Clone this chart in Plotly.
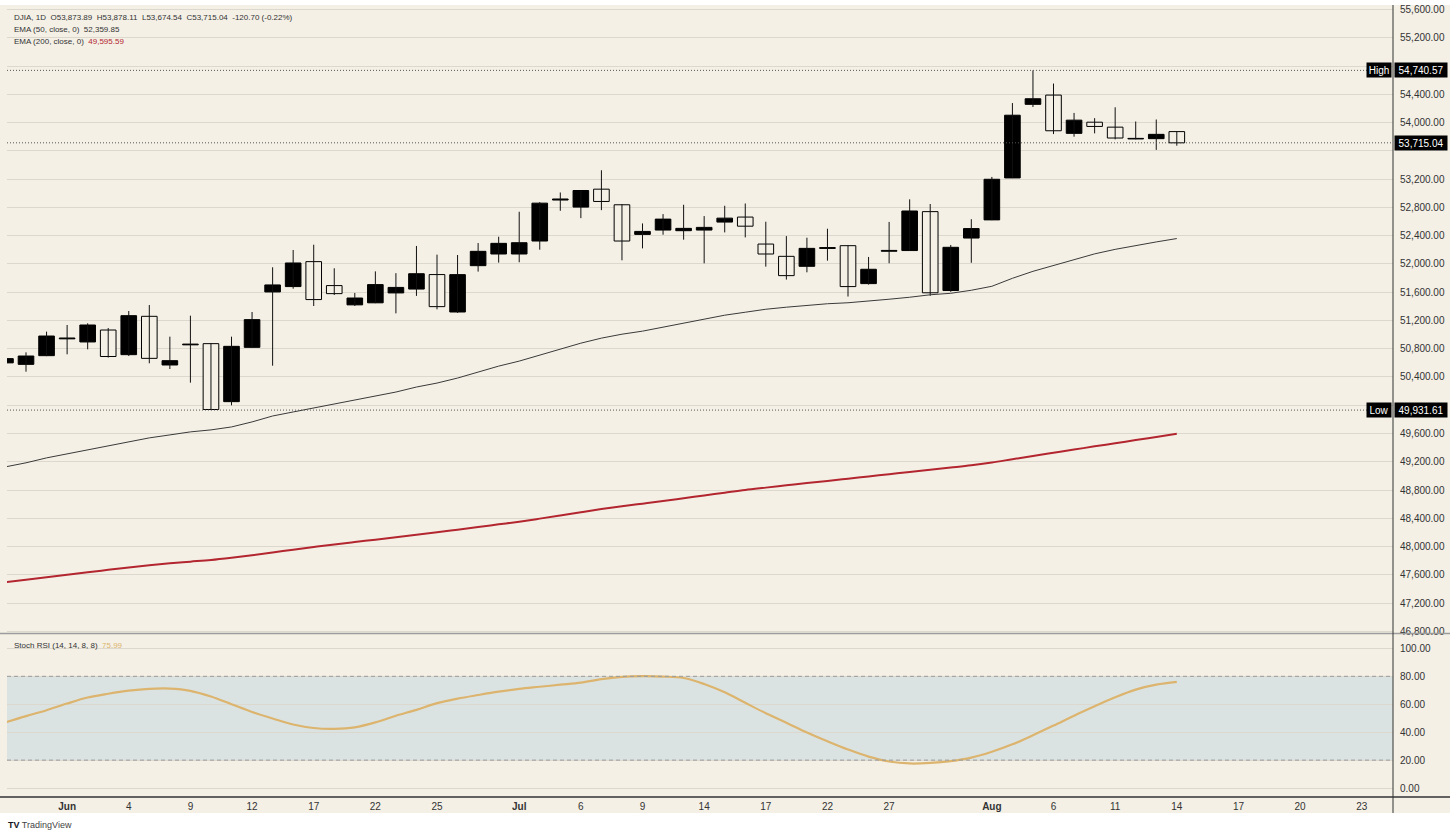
import plotly.graph_objects as go

# ---------------- data ----------------
dates = ["2026-05-27", "2026-05-28", "2026-05-29",
         "2026-06-01", "2026-06-02", "2026-06-03", "2026-06-04", "2026-06-05",
         "2026-06-08", "2026-06-09", "2026-06-10", "2026-06-11", "2026-06-12",
         "2026-06-15", "2026-06-16", "2026-06-17", "2026-06-18", "2026-06-19",
         "2026-06-22", "2026-06-23", "2026-06-24", "2026-06-25", "2026-06-26",
         "2026-06-29", "2026-06-30",
         "2026-07-01", "2026-07-02", "2026-07-03",
         "2026-07-06", "2026-07-07", "2026-07-08", "2026-07-09", "2026-07-10",
         "2026-07-13", "2026-07-14", "2026-07-15", "2026-07-16", "2026-07-17",
         "2026-07-20", "2026-07-21", "2026-07-22", "2026-07-23", "2026-07-24",
         "2026-07-27", "2026-07-28", "2026-07-29", "2026-07-30", "2026-07-31",
         "2026-08-03", "2026-08-04", "2026-08-05", "2026-08-06", "2026-08-07",
         "2026-08-10", "2026-08-11", "2026-08-12", "2026-08-13", "2026-08-14"]

opens = [50600, 50579, 50702, 50940, 50896, 51065, 50716, 51259, 50570, 50855,
         50872, 50051, 50820, 51604, 51680, 52033, 51694, 51421, 51450, 51590,
         51645, 51850, 51320, 51976, 52141, 52141, 52325, 52905, 52805, 53059,
         52838, 52419, 52480, 52471, 52480, 52593, 52664, 52282, 52108, 51967,
         52220, 52259, 51722, 52180, 52190, 52741, 51624, 52367, 52624, 53218,
         54260, 54391, 53849, 54007, 53937, 53770, 53774, 53873.89]
highs = [50690, 50749, 51042, 51136, 51160, 51094, 51334, 51419, 50971, 51268,
         50880, 50971, 51320, 51953, 52198, 52273, 51939, 51590, 51895, 51870,
         52255, 52132, 52127, 52296, 52386, 52739, 52875, 53012, 53040, 53327,
         52845, 52574, 52706, 52838, 52678, 52824, 52856, 52598, 52395, 52372,
         52499, 52265, 52099, 52595, 52915, 52849, 52269, 52634, 53232, 54278,
         54740.57, 54554, 54138, 54064, 54218, 54017, 54045, 53878.11]
lows = [50585, 50475, 50695, 50721, 50792, 50675, 50697, 50594, 50513, 50320,
        49931.61, 49999, 50815, 50560, 51650, 51405, 51561, 51405, 51445, 51301,
        51548, 51358, 51308, 51892, 52019, 52024, 52202, 52753, 52649, 52762,
        52052, 52221, 52414, 52344, 52009, 52447, 52376, 51962, 51779, 51882,
        52047, 51539, 51708, 52010, 52185, 51549, 51606, 52017, 52620, 53215,
        54222, 53839, 53802, 53849, 53764, 53765, 53615, 53674.54]
closes = [50660, 50697, 50980, 50952, 51136, 50690, 51268, 50664, 50631, 50866,
          49940, 50834, 51212, 51703, 52014, 51496, 51580, 51518, 51708, 51668,
          51862, 51396, 51849, 52179, 52292, 52301, 52861, 52920, 53040, 52885,
          52325, 52461, 52635, 52504, 52518, 52649, 52535, 52141, 51835, 52221,
          52232, 51680, 51925, 52192, 52750, 51592, 52236, 52501, 53199, 54106,
          54339, 53886, 54036, 53947, 53783, 53778, 53835, 53715.04]

ema50 = [49128, 49185, 49255, 49312, 49368, 49425, 49481, 49538, 49580, 49623,
         49651, 49693, 49764, 49848, 49905, 49961, 50018, 50074, 50131, 50187,
         50258, 50314, 50385, 50470, 50554, 50625, 50710, 50795, 50879, 50950,
         51006, 51049, 51105, 51162, 51218, 51275, 51317, 51359, 51388, 51416,
         51437, 51451, 51472, 51501, 51529, 51564, 51585, 51628, 51684, 51797,
         51896, 51981, 52065, 52143, 52207, 52263, 52312, 52359.85]
ema200 = [47494, 47530, 47566, 47601, 47636, 47670, 47704, 47735, 47762, 47786,
          47810, 47842, 47878, 47916, 47955, 47993, 48030, 48064, 48097, 48131,
          48166, 48202, 48239, 48276, 48314, 48352, 48395, 48440, 48486, 48530,
          48569, 48607, 48645, 48684, 48723, 48762, 48801, 48834, 48866, 48898,
          48928, 48960, 48992, 49024, 49056, 49087, 49118, 49150, 49190, 49236,
          49282, 49327, 49372, 49418, 49462, 49507, 49551, 49595.59]
stoch_rsi = [47.0, 51.5, 55.7, 60.5, 64.8, 67.5, 69.7, 71.0, 71.2, 69.6,
             65.5, 60.0, 54.5, 49.8, 45.5, 43.0, 42.4, 43.5, 47.0, 51.8,
             56.0, 60.8, 64.0, 66.6, 69.0, 71.0, 72.5, 74.0, 75.5, 78.0,
             79.6, 80.1, 79.8, 78.8, 74.5, 68.5, 61.0, 53.6, 46.8, 39.8,
             33.5, 27.6, 22.5, 19.0, 17.6, 18.0, 19.3, 21.8, 26.0, 31.3,
             37.8, 44.7, 51.8, 58.5, 65.0, 70.5, 74.0, 75.99]

tick_pos = [3, 6, 9, 12, 15, 18, 21, 25, 28, 31, 34, 37, 40, 43, 48, 51, 54, 57, 60, 63, 66]
tick_text = ["<b>Jun</b>", "4", "9", "12", "17", "22", "25", "<b>Jul</b>", "6", "9", "14",
             "17", "22", "27", "<b>Aug</b>", "6", "11", "14", "17", "20", "23"]
price_ticks = [46800 + 400 * k for k in range(23)]
rsi_ticks = [0, 20, 40, 60, 80, 100]

high_val = 54740.57
low_val = 49931.61
last_close = 53715.04

# ---------------- styling / layout helpers ----------------
BG = "#f4f0e6"
GRID = "#dcd8cd"
FONT = "Liberation Sans"
W, H = 1456, 837
ML, MR, MT, MB = 7, 63, 4, 40
PW, PH = W - ML - MR, H - MT - MB


def pxx(x):
    return (x - ML) / PW


def pxy(y):
    return (H - MB - y) / PH


split = pxy(633)
idx = list(range(len(dates)))

# tick labels hidden behind the High / Low / last-price boxes
covered = {54800, 53600, 50000}
price_text = ["" if v in covered else f"{v:,.2f}" for v in price_ticks]

fig = go.Figure()

# wicks
wx, wy = [], []
for i in idx:
    wx += [i, i, None]
    wy += [lows[i], highs[i], None]
fig.add_trace(go.Scatter(x=wx, y=wy, mode="lines", line=dict(color="#111111", width=1),
                         hoverinfo="skip", showlegend=False, xaxis="x", yaxis="y"))

up_i = [i for i in idx if closes[i] >= opens[i]]
dn_i = [i for i in idx if closes[i] < opens[i]]
fig.add_trace(go.Bar(x=up_i, y=[closes[i] - opens[i] for i in up_i], base=[opens[i] for i in up_i],
                     width=0.76, marker=dict(color="#000000", line=dict(color="#000000", width=1)),
                     showlegend=False, xaxis="x", yaxis="y", customdata=[dates[i] for i in up_i]))
fig.add_trace(go.Bar(x=dn_i, y=[opens[i] - closes[i] for i in dn_i], base=[closes[i] for i in dn_i],
                     width=0.76, marker=dict(color=BG, line=dict(color="#000000", width=1)),
                     showlegend=False, xaxis="x", yaxis="y", customdata=[dates[i] for i in dn_i]))

fig.add_trace(go.Scatter(x=idx, y=ema50, mode="lines", line=dict(color="#3a3a3a", width=1),
                         showlegend=False, xaxis="x", yaxis="y"))
fig.add_trace(go.Scatter(x=idx, y=ema200, mode="lines", line=dict(color="#b3262f", width=2, shape="spline"),
                         showlegend=False, xaxis="x", yaxis="y"))
fig.add_trace(go.Scatter(x=idx, y=stoch_rsi, mode="lines", line=dict(color="#dcb46e", width=2.2, shape="spline"),
                         showlegend=False, xaxis="x", yaxis="y2"))

shapes = [
    # cream chart background including axis areas
    dict(type="rect", xref="paper", yref="paper", x0=pxx(0), x1=pxx(1450), y0=pxy(813), y1=pxy(3),
         fillcolor=BG, line=dict(width=0), layer="below"),
    # overbought/oversold band
    dict(type="rect", xref="paper", yref="y2", x0=0, x1=1, y0=20, y1=80,
         fillcolor="#dbe3e2", line=dict(width=0), layer="below"),
    dict(type="line", xref="paper", yref="y2", x0=0, x1=1, y0=80, y1=80,
         line=dict(color="#9a9a9a", width=1, dash="4px,3px")),
    dict(type="line", xref="paper", yref="y2", x0=0, x1=1, y0=20, y1=20,
         line=dict(color="#9a9a9a", width=1, dash="4px,3px")),
    # high / low / close dotted lines
    dict(type="line", xref="paper", yref="y", x0=0, x1=1, y0=high_val, y1=high_val,
         line=dict(color="#555555", width=1, dash="1px,2px")),
    dict(type="line", xref="paper", yref="y", x0=0, x1=1, y0=low_val, y1=low_val,
         line=dict(color="#555555", width=1, dash="1px,2px")),
    dict(type="line", xref="paper", yref="y", x0=0, x1=1, y0=last_close, y1=last_close,
         line=dict(color="#555555", width=1, dash="1px,2px")),
    # pane divider
    dict(type="line", xref="paper", yref="paper", x0=pxx(0), x1=pxx(1450), y0=split, y1=split,
         line=dict(color="#9c9c9c", width=1.5)),
    # bottom time axis line
    dict(type="line", xref="paper", yref="paper", x0=pxx(0), x1=pxx(1450), y0=pxy(797), y1=pxy(797),
         line=dict(color="#333333", width=1.5)),
    # right price axis line
    dict(type="line", xref="paper", yref="paper", x0=1, x1=1, y0=pxy(813), y1=pxy(3),
         line=dict(color="#333333", width=1)),
]

lab_font = dict(family=FONT, size=10, color="#ffffff")
annotations = [
    dict(xref="paper", yref="paper", x=pxx(12), y=pxy(16), xanchor="left", yanchor="middle",
         showarrow=False, font=dict(family=FONT, size=8, color="#333333"),
         text="DJIA, 1D  O53,873.89  H53,878.11  L53,674.54  C53,715.04  -120.70 (-0.22%)"),
    dict(xref="paper", yref="paper", x=pxx(12), y=pxy(28), xanchor="left", yanchor="middle",
         showarrow=False, font=dict(family=FONT, size=8, color="#333333"),
         text="EMA (50, close, 0)  52,359.85"),
    dict(xref="paper", yref="paper", x=pxx(12), y=pxy(40), xanchor="left", yanchor="middle",
         showarrow=False, font=dict(family=FONT, size=8, color="#333333"),
         text="EMA (200, close, 0)  <span style='color:#b3262f'>49,595.59</span>"),
    dict(xref="paper", yref="paper", x=pxx(12), y=pxy(645), xanchor="left", yanchor="middle",
         showarrow=False, font=dict(family=FONT, size=8, color="#333333"),
         text="Stoch RSI (14, 14, 8, 8)  <span style='color:#dcb46e'>75.99</span>"),
    # value labels on price axis
    dict(xref="paper", yref="y", x=pxx(1394), y=high_val, xanchor="left", yanchor="middle",
         showarrow=False, text="54,740.57", font=lab_font, bgcolor="#000000",
         width=50, height=12, borderpad=1, align="center"),
    dict(xref="paper", yref="y", x=pxx(1392), y=high_val, xanchor="right", yanchor="middle",
         showarrow=False, text="High", font=lab_font, bgcolor="#000000",
         width=22, height=12, borderpad=1, align="center"),
    dict(xref="paper", yref="y", x=pxx(1394), y=low_val, xanchor="left", yanchor="middle",
         showarrow=False, text="49,931.61", font=lab_font, bgcolor="#000000",
         width=50, height=12, borderpad=1, align="center"),
    dict(xref="paper", yref="y", x=pxx(1392), y=low_val, xanchor="right", yanchor="middle",
         showarrow=False, text="Low", font=lab_font, bgcolor="#000000",
         width=22, height=12, borderpad=1, align="center"),
    dict(xref="paper", yref="y", x=pxx(1394), y=last_close, xanchor="left", yanchor="middle",
         showarrow=False, text="53,715.04", font=lab_font, bgcolor="#000000",
         width=50, height=12, borderpad=1, align="center"),
    # brand
    dict(xref="paper", yref="paper", x=pxx(6), y=pxy(825), xanchor="left", yanchor="middle",
         showarrow=False, font=dict(family=FONT, size=9, color="#444444"),
         text="<b style='color:#131722'>TV</b> TradingView"),
]

fig.update_layout(
    width=W, height=H,
    margin=dict(l=ML, r=MR, t=MT, b=MB),
    paper_bgcolor="#ffffff",
    plot_bgcolor=BG,
    barmode="overlay",
    showlegend=False,
    hovermode=False,
    shapes=shapes,
    annotations=annotations,
    xaxis=dict(range=[0.075, 67.52], anchor="y2", showgrid=False, zeroline=False, showline=False,
               tickmode="array", tickvals=tick_pos, ticktext=tick_text,
               tickfont=dict(family=FONT, size=10, color="#333333"), ticks="", ticklabelstandoff=2),
    yaxis=dict(domain=[split, 1], anchor="x", side="right", range=[46770, 55652],
               tickmode="array", tickvals=price_ticks, ticktext=price_text,
               tickfont=dict(family=FONT, size=10, color="#333333"),
               showgrid=True, gridcolor=GRID, gridwidth=1, zeroline=False, showline=False,
               ticks="", ticklabelstandoff=6),
    yaxis2=dict(domain=[0, split], anchor="x", side="right", range=[-6.4, 110.7],
                tickmode="array", tickvals=rsi_ticks,
                ticktext=[f"{v:.2f}" for v in rsi_ticks],
                tickfont=dict(family=FONT, size=10, color="#333333"),
                showgrid=True, gridcolor=GRID, gridwidth=1, zeroline=False, showline=False,
                ticks="", ticklabelstandoff=6),
)

fig.write_html("out.html", config={"displayModeBar": False},
               post_script="document.body.style.margin='0';")
